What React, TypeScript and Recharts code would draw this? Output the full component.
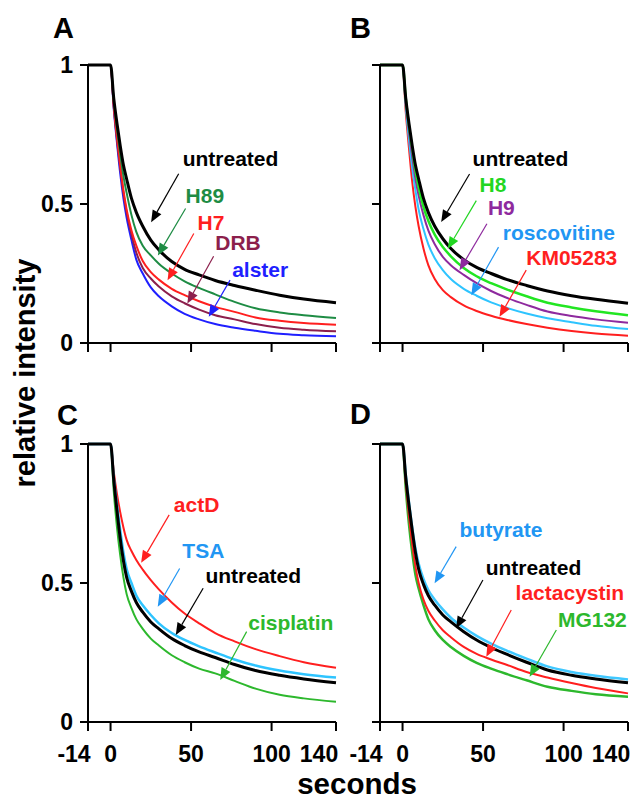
import React from "react";
import { LineChart, Line, XAxis, YAxis, ReferenceLine, ReferenceDot } from "recharts";

const FONT = "'Liberation Sans', Arial, Helvetica, sans-serif";

// time points (seconds) shared by all traces
const times = [-14, -7, 0, 2, 4, 6, 8, 10, 13, 16, 20, 25, 30, 38, 46, 55, 65, 77, 90, 105, 120, 140];
const xTicks = [-14, 0, 50, 100, 140];
const yTicks = [0, 0.5, 1];

// Panel A
const untreatedA = [1, 1, 1, 0.88, 0.79, 0.71, 0.64, 0.59, 0.52, 0.47, 0.42, 0.37, 0.335, 0.293, 0.265, 0.245, 0.225, 0.207, 0.19, 0.172, 0.158, 0.145];
const h89 = [1, 1, 1, 0.87, 0.77, 0.68, 0.6, 0.54, 0.46, 0.4, 0.35, 0.315, 0.285, 0.25, 0.222, 0.198, 0.175, 0.148, 0.125, 0.11, 0.1, 0.09];
const h7 = [1, 1, 1, 0.85, 0.74, 0.64, 0.55, 0.48, 0.405, 0.35, 0.295, 0.255, 0.228, 0.195, 0.172, 0.15, 0.13, 0.112, 0.092, 0.08, 0.072, 0.066];
const drb = [1, 1, 1, 0.85, 0.73, 0.63, 0.54, 0.47, 0.39, 0.325, 0.27, 0.232, 0.203, 0.168, 0.143, 0.12, 0.1, 0.085, 0.068, 0.055, 0.048, 0.042];
const alster = [1, 1, 1, 0.84, 0.72, 0.61, 0.52, 0.45, 0.37, 0.3, 0.25, 0.2, 0.168, 0.132, 0.105, 0.085, 0.068, 0.055, 0.044, 0.033, 0.028, 0.024];

// Panel B
const untreatedB = [1, 1, 1, 0.88, 0.79, 0.71, 0.64, 0.59, 0.52, 0.47, 0.42, 0.375, 0.34, 0.3, 0.272, 0.25, 0.228, 0.207, 0.187, 0.17, 0.157, 0.143];
const h8 = [1, 1, 1, 0.88, 0.78, 0.7, 0.62, 0.56, 0.49, 0.44, 0.39, 0.345, 0.312, 0.27, 0.24, 0.215, 0.192, 0.168, 0.145, 0.128, 0.114, 0.1];
const h9 = [1, 1, 1, 0.87, 0.76, 0.67, 0.59, 0.53, 0.46, 0.405, 0.355, 0.31, 0.28, 0.245, 0.215, 0.187, 0.162, 0.137, 0.113, 0.097, 0.085, 0.073];
const roscovitine = [1, 1, 1, 0.85, 0.73, 0.63, 0.55, 0.48, 0.41, 0.355, 0.305, 0.262, 0.23, 0.195, 0.17, 0.146, 0.126, 0.106, 0.089, 0.075, 0.062, 0.05];
const km05283 = [1, 1, 1, 0.83, 0.7, 0.58, 0.49, 0.42, 0.34, 0.28, 0.23, 0.19, 0.165, 0.135, 0.115, 0.098, 0.083, 0.068, 0.055, 0.043, 0.034, 0.026];

// Panel C
const untreatedC = [1, 1, 1, 0.87, 0.76, 0.66, 0.58, 0.52, 0.47, 0.43, 0.395, 0.36, 0.335, 0.3, 0.275, 0.252, 0.232, 0.207, 0.185, 0.168, 0.155, 0.141];
const tsa = [1, 1, 1, 0.88, 0.78, 0.69, 0.61, 0.55, 0.5, 0.455, 0.42, 0.385, 0.355, 0.32, 0.295, 0.272, 0.25, 0.225, 0.203, 0.185, 0.172, 0.16];
const actD = [1, 1, 1, 0.9, 0.82, 0.755, 0.7, 0.655, 0.615, 0.583, 0.548, 0.51, 0.477, 0.43, 0.39, 0.355, 0.32, 0.29, 0.262, 0.237, 0.215, 0.195];
const cisplatin = [1, 1, 1, 0.83, 0.7, 0.6, 0.52, 0.46, 0.41, 0.37, 0.335, 0.3, 0.275, 0.24, 0.215, 0.192, 0.175, 0.148, 0.12, 0.098, 0.085, 0.073];

// Panel D
const untreatedD = [1, 1, 1, 0.88, 0.78, 0.69, 0.61, 0.55, 0.495, 0.455, 0.42, 0.385, 0.36, 0.325, 0.295, 0.268, 0.243, 0.215, 0.187, 0.168, 0.155, 0.141];
const butyrate = [1, 1, 1, 0.89, 0.79, 0.7, 0.625, 0.57, 0.515, 0.475, 0.44, 0.405, 0.375, 0.34, 0.31, 0.282, 0.256, 0.228, 0.2, 0.18, 0.166, 0.153];
const lactacystin = [1, 1, 1, 0.86, 0.74, 0.64, 0.56, 0.5, 0.44, 0.4, 0.365, 0.33, 0.305, 0.27, 0.245, 0.225, 0.205, 0.18, 0.16, 0.14, 0.122, 0.103];
const mg132 = [1, 1, 1, 0.84, 0.71, 0.61, 0.53, 0.48, 0.42, 0.37, 0.33, 0.295, 0.27, 0.238, 0.213, 0.192, 0.172, 0.15, 0.127, 0.112, 0.1, 0.091];

type Series = { key: string; values: number[]; color: string; width: number };
type Note = { text: string; color: string; tx: number; ty: number; x1: number; y1: number; x2: number; y2: number };

// annotations: label anchor (tx, ty) and arrow from (x1,y1) to tip (x2,y2), all in data units
const notesA: Note[] = [
  { text: "untreated", color: "#000", tx: 44.8, ty: 0.638, x1: 42.3, y1: 0.609, x2: 25.2, y2: 0.434 },
  { text: "H89", color: "#1e8c44", tx: 46.6, ty: 0.502, x1: 46.6, y1: 0.484, x2: 29.4, y2: 0.315 },
  { text: "H7", color: "#ff1f1f", tx: 54, ty: 0.405, x1: 51.7, y1: 0.394, x2: 35.4, y2: 0.226 },
  { text: "DRB", color: "#8c1f4c", tx: 65, ty: 0.333, x1: 64, y1: 0.312, x2: 47.7, y2: 0.142 },
  { text: "alster", color: "#1f1fff", tx: 75.5, ty: 0.237, x1: 74.2, y1: 0.226, x2: 61, y2: 0.094 },
];
const notesB: Note[] = [
  { text: "untreated", color: "#000", tx: 43.5, ty: 0.638, x1: 41.6, y1: 0.608, x2: 24, y2: 0.435 },
  { text: "H8", color: "#22d622", tx: 47.8, ty: 0.542, x1: 45.8, y1: 0.512, x2: 28.1, y2: 0.339 },
  { text: "H9", color: "#8e2a9e", tx: 53, ty: 0.459, x1: 52.4, y1: 0.429, x2: 35.4, y2: 0.262 },
  { text: "roscovitine", color: "#2196f3", tx: 62.3, ty: 0.369, x1: 59.6, y1: 0.345, x2: 42.7, y2: 0.172 },
  { text: "KM05283", color: "#ff1f1f", tx: 76.8, ty: 0.28, x1: 76.8, y1: 0.262, x2: 60.2, y2: 0.094 },
];
const notesC: Note[] = [
  { text: "actD", color: "#ff1f1f", tx: 39.3, ty: 0.756, x1: 36.4, y1: 0.745, x2: 19, y2: 0.573 },
  { text: "TSA", color: "#2196f3", tx: 44.6, ty: 0.589, x1: 42.9, y1: 0.552, x2: 29.3, y2: 0.415 },
  { text: "untreated", color: "#000", tx: 58.9, ty: 0.499, x1: 57.5, y1: 0.481, x2: 40.5, y2: 0.313 },
  { text: "cisplatin", color: "#2db82d", tx: 85.5, ty: 0.331, x1: 84.5, y1: 0.325, x2: 68.1, y2: 0.151 },
];
const notesD: Note[] = [
  { text: "butyrate", color: "#2196f3", tx: 35.4, ty: 0.667, x1: 33.3, y1: 0.631, x2: 19.9, y2: 0.499 },
  { text: "untreated", color: "#000", tx: 51.6, ty: 0.529, x1: 49.9, y1: 0.511, x2: 33.3, y2: 0.337 },
  { text: "lactacystin", color: "#ff1f1f", tx: 70.2, ty: 0.439, x1: 67.5, y1: 0.403, x2: 52, y2: 0.235 },
  { text: "MG132", color: "#2db82d", tx: 96.5, ty: 0.343, x1: 95.5, y1: 0.331, x2: 78.9, y2: 0.163 },
];

const seriesA: Series[] = [
  { key: "alster", values: alster, color: "#1f1fff", width: 2 },
  { key: "drb", values: drb, color: "#8c1f4c", width: 2 },
  { key: "h7", values: h7, color: "#ff1f1f", width: 2 },
  { key: "h89", values: h89, color: "#1e8c44", width: 2 },
  { key: "untreated", values: untreatedA, color: "#000", width: 3 },
];
const seriesB: Series[] = [
  { key: "km05283", values: km05283, color: "#ff1f1f", width: 2 },
  { key: "roscovitine", values: roscovitine, color: "#2ec4ff", width: 2 },
  { key: "h9", values: h9, color: "#8e2a9e", width: 2 },
  { key: "h8", values: h8, color: "#22e622", width: 2.5 },
  { key: "untreated", values: untreatedB, color: "#000", width: 3 },
];
const seriesC: Series[] = [
  { key: "cisplatin", values: cisplatin, color: "#2db82d", width: 2 },
  { key: "actD", values: actD, color: "#ff1f1f", width: 2 },
  { key: "tsa", values: tsa, color: "#2ec4ff", width: 2.5 },
  { key: "untreated", values: untreatedC, color: "#000", width: 3 },
];
const seriesD: Series[] = [
  { key: "mg132", values: mg132, color: "#2db82d", width: 2.5 },
  { key: "lactacystin", values: lactacystin, color: "#ff1f1f", width: 2 },
  { key: "butyrate", values: butyrate, color: "#40c8ff", width: 2.5 },
  { key: "untreated", values: untreatedD, color: "#000", width: 3 },
];

const Arrow = ({ x1, y1, x2, y2, color }: any) => {
  const dx = x2 - x1;
  const dy = y2 - y1;
  const len = Math.hypot(dx, dy) || 1;
  const ux = dx / len;
  const uy = dy / len;
  const head = 12;
  const hw = 5;
  const bx = x2 - ux * head;
  const by = y2 - uy * head;
  const pts = `${x2},${y2} ${bx - uy * hw},${by + ux * hw} ${bx + uy * hw},${by - ux * hw}`;
  return (
    <g>
      <line x1={x1} y1={y1} x2={bx} y2={by} stroke={color} strokeWidth={1.2} />
      <polygon points={pts} fill={color} />
    </g>
  );
};

// -14 and 140 labels sit a bit left of their ticks in the original
const xOffsets: Record<number, number> = { [-14]: -14, 140: -17 };

const XTick = (props: any) => {
  const v = props.payload.value;
  return (
    <text x={props.x + (xOffsets[v] || 0)} y={props.y + 29} textAnchor="middle" fontFamily={FONT} fontWeight="bold" fontSize={23} fill="#000">
      {v}
    </text>
  );
};

const YTick = (props: any) => (
  <text x={props.x} y={props.y + 8} textAnchor="end" fontFamily={FONT} fontWeight="bold" fontSize={23} fill="#000">
    {props.payload.value}
  </text>
);

const Empty = () => <g />;

type PanelProps = {
  series: Series[];
  notes: Note[];
  left: number;
  top: number;
  width: number;
  height: number;
  margin: { top: number; right: number; bottom: number; left: number };
  xLabels: boolean;
  yLabels: boolean;
  xAxisHeight: number;
};

const Panel: React.FC<PanelProps> = ({ series, notes, left, top, width, height, margin, xLabels, yLabels, xAxisHeight }) => {
  const data = times.map((t, i) => {
    const row: Record<string, number> = { t };
    series.forEach((s) => {
      row[s.key] = s.values[i];
    });
    return row;
  });
  return (
    <div style={{ position: "absolute", left, top, width, height }}>
      <LineChart width={width} height={height} data={data} margin={margin}>
        <XAxis
          dataKey="t"
          type="number"
          domain={[-14, 140]}
          ticks={xTicks}
          interval={0}
          height={xAxisHeight}
          tickSize={9}
          tickMargin={2}
          axisLine={{ stroke: "#000", strokeWidth: 2 }}
          tickLine={{ stroke: "#000", strokeWidth: 2 }}
          tick={xLabels ? <XTick /> : <Empty />}
        />
        <YAxis
          type="number"
          domain={[0, 1]}
          ticks={yTicks}
          interval={0}
          width={40}
          tickSize={8}
          tickMargin={7}
          axisLine={{ stroke: "#000", strokeWidth: 2 }}
          tickLine={{ stroke: "#000", strokeWidth: 2 }}
          tick={yLabels ? <YTick /> : <Empty />}
        />
        {series.map((s) => (
          <Line
            key={s.key}
            type="monotone"
            dataKey={s.key}
            stroke={s.color}
            strokeWidth={s.width}
            dot={false}
            isAnimationActive={false}
          />
        ))}
        {notes.map((n) => (
          <ReferenceLine
            key={"a" + n.text}
            segment={[{ x: n.x1, y: n.y1 }, { x: n.x2, y: n.y2 }]}
            shape={(p: any) => <Arrow x1={p.x1} y1={p.y1} x2={p.x2} y2={p.y2} color={n.color} />}
          />
        ))}
        {notes.map((n) => (
          <ReferenceDot
            key={"t" + n.text}
            x={n.tx}
            y={n.ty}
            r={0}
            shape={(p: any) => (
              <text x={p.cx} y={p.cy} fill={n.color} fontFamily={FONT} fontWeight="bold" fontSize={21}>
                {n.text}
              </text>
            )}
          />
        ))}
      </LineChart>
    </div>
  );
};

export default function App() {
  const panelLetter = { fontFamily: FONT, fontWeight: "bold" as const, fontSize: 29, fill: "#000" };
  return (
    <div style={{ position: "absolute", left: 0, top: 0, width: 635, height: 800, background: "#fff", overflow: "hidden" }}>
      <Panel series={seriesA} notes={notesA} left={0} top={0} width={345} height={370}
        margin={{ top: 65, right: 9, bottom: 0, left: 48 }} xLabels={false} yLabels={true} xAxisHeight={27} />
      <Panel series={seriesB} notes={notesB} left={300} top={0} width={335} height={370}
        margin={{ top: 65, right: 7, bottom: 0, left: 40 }} xLabels={false} yLabels={false} xAxisHeight={27} />
      <Panel series={seriesC} notes={notesC} left={0} top={380} width={345} height={400}
        margin={{ top: 64, right: 9, bottom: 0, left: 48 }} xLabels={true} yLabels={true} xAxisHeight={58} />
      <Panel series={seriesD} notes={notesD} left={300} top={380} width={335} height={400}
        margin={{ top: 64, right: 7, bottom: 0, left: 40 }} xLabels={true} yLabels={false} xAxisHeight={58} />
      <svg width={635} height={800} style={{ position: "absolute", left: 0, top: 0, pointerEvents: "none" }}>
        <text x={53} y={38} {...panelLetter}>A</text>
        <text x={350} y={38} {...panelLetter}>B</text>
        <text x={57} y={425} {...panelLetter}>C</text>
        <text x={350} y={424} {...panelLetter}>D</text>
        <text transform="translate(35,373) rotate(-90)" textAnchor="middle" fontFamily={FONT} fontWeight="bold" fontSize={29} fill="#000">
          relative intensity
        </text>
        <text x={357} y={794} textAnchor="middle" fontFamily={FONT} fontWeight="bold" fontSize={29.5} fill="#000">
          seconds
        </text>
      </svg>
    </div>
  );
}
